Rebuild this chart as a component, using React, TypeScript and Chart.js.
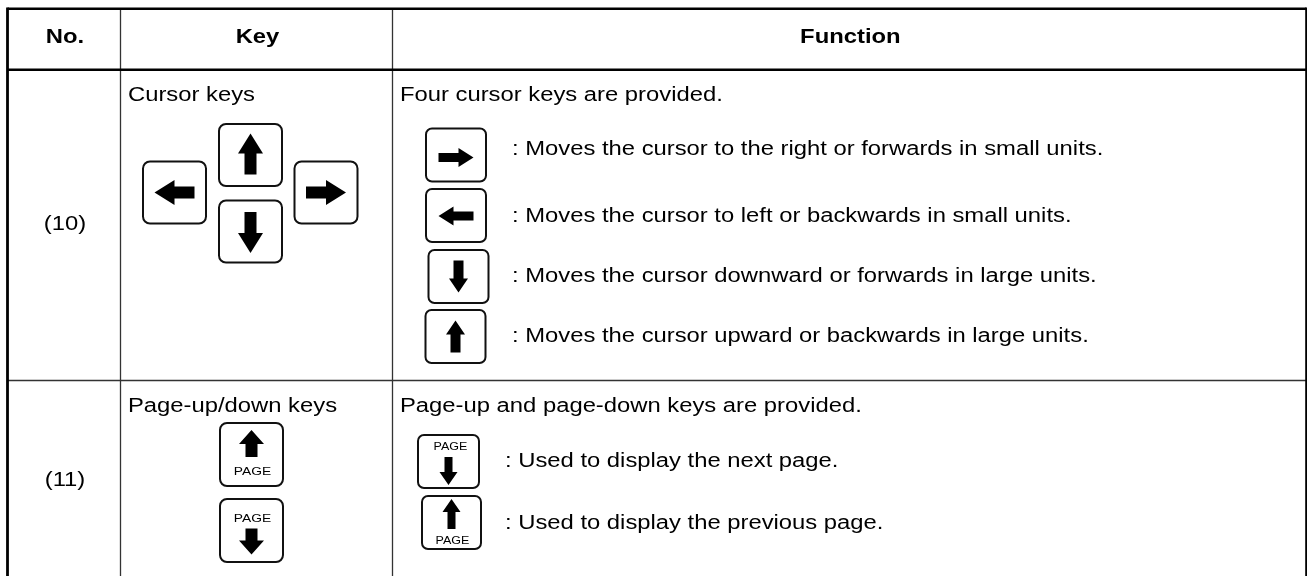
import React, { useEffect, useRef } from "react";
import { Chart, registerables } from "chart.js";

Chart.register(...registerables);

// ---------- content ----------
const headers = ["No.", "Key", "Function"];
const rowNumbers = ["(10)", "(11)"];
const keyLabels = ["Cursor keys", "Page-up/down keys"];
const functionIntros = [
  "Four cursor keys are provided.",
  "Page-up and page-down keys are provided.",
];
const cursorClusterKeys = ["up", "down", "left", "right"];
const cursorKeys = ["right", "left", "down", "up"];
const cursorDescriptions = [
  ": Moves the cursor to the right or forwards in small units.",
  ": Moves the cursor to left or backwards in small units.",
  ": Moves the cursor downward or forwards in large units.",
  ": Moves the cursor upward or backwards in large units.",
];
const pageKeyColumnKeys = ["up", "down"];
const pageKeys = ["down", "up"];
const pageDescriptions = [
  ": Used to display the next page.",
  ": Used to display the previous page.",
];
const pageLabel = "PAGE";

// ---------- layout (value space of the hidden linear scales) ----------
const W = 1307;
const H = 576;
const colEdges = [7.5, 120.5, 392.5, 1306.2];
const rowEdges = [8.7, 69.7, 380.5, 578];
const FONT = '"Liberation Sans", Arial, Helvetica, sans-serif';
const SX = 1.19;

const clusterPos: Record<string, [number, number]> = {
  up: [250.5, 155],
  down: [250.5, 231.5],
  left: [174.5, 192.5],
  right: [326, 192.5],
};
const fnBoxCenters: [number, number][] = [
  [456, 155],
  [456, 215.5],
  [458.5, 276.5],
  [455.5, 336.5],
];
const fnTextBaselines = [154.5, 222, 282, 342];
const pageKeyColCenters: [number, number][] = [
  [251.5, 454.5],
  [251.5, 530.5],
];
const pageFnCenters: [number, number][] = [
  [448.5, 461.5],
  [451.5, 522.5],
];
const pageTextBaselines = [467, 529];

const rot: Record<string, number> = { up: 0, right: Math.PI / 2, down: Math.PI, left: -Math.PI / 2 };

function drawArrow(
  ctx: CanvasRenderingContext2D,
  cx: number,
  cy: number,
  dir: string,
  len: number,
  headL: number,
  headW: number,
  shaftW: number
) {
  ctx.save();
  ctx.translate(cx, cy);
  ctx.rotate(rot[dir]);
  const t = -len / 2;
  const hb = t + headL;
  const b = len / 2;
  ctx.beginPath();
  ctx.moveTo(0, t);
  ctx.lineTo(headW / 2, hb);
  ctx.lineTo(shaftW / 2, hb);
  ctx.lineTo(shaftW / 2, b);
  ctx.lineTo(-shaftW / 2, b);
  ctx.lineTo(-shaftW / 2, hb);
  ctx.lineTo(-headW / 2, hb);
  ctx.closePath();
  ctx.fillStyle = "#000";
  ctx.fill();
  ctx.restore();
}

function roundBox(ctx: CanvasRenderingContext2D, cx: number, cy: number, w: number, h: number, r: number) {
  const x = cx - w / 2;
  const y = cy - h / 2;
  ctx.beginPath();
  ctx.moveTo(x + r, y);
  ctx.lineTo(x + w - r, y);
  ctx.arcTo(x + w, y, x + w, y + r, r);
  ctx.lineTo(x + w, y + h - r);
  ctx.arcTo(x + w, y + h, x + w - r, y + h, r);
  ctx.lineTo(x + r, y + h);
  ctx.arcTo(x, y + h, x, y + h - r, r);
  ctx.lineTo(x, y + r);
  ctx.arcTo(x, y, x + r, y, r);
  ctx.closePath();
  ctx.lineWidth = 2;
  ctx.strokeStyle = "#111";
  ctx.stroke();
}

function text(
  ctx: CanvasRenderingContext2D,
  s: string,
  x: number,
  y: number,
  size: number,
  align: CanvasTextAlign,
  bold = false,
  sx = SX
) {
  ctx.save();
  ctx.translate(x, y);
  ctx.scale(sx, 1);
  ctx.font = `${bold ? "bold " : ""}${size}px ${FONT}`;
  ctx.textAlign = align;
  ctx.textBaseline = "alphabetic";
  ctx.fillStyle = "#000";
  ctx.fillText(s, 0, 0);
  ctx.restore();
}

const tablePlugin = {
  id: "keyTable",
  beforeDraw(chart: any) {
    const ctx = chart.ctx as CanvasRenderingContext2D;
    ctx.save();
    ctx.fillStyle = "#fff";
    ctx.fillRect(0, 0, chart.width, chart.height);
    ctx.restore();
  },
  afterDraw(chart: any) {
    const ctx = chart.ctx as CanvasRenderingContext2D;
    const xs = chart.scales.x;
    const ys = chart.scales.y;
    const px = (v: number) => xs.getPixelForValue(v);
    const py = (v: number) => ys.getPixelForValue(v);
    ctx.save();

    // inner lines
    ctx.strokeStyle = "#333";
    ctx.lineWidth = 1.3;
    [colEdges[1], colEdges[2]].forEach((c) => {
      ctx.beginPath();
      ctx.moveTo(px(c), py(rowEdges[0]));
      ctx.lineTo(px(c), py(rowEdges[3]));
      ctx.stroke();
    });
    ctx.beginPath();
    ctx.moveTo(px(colEdges[0]), py(rowEdges[2]));
    ctx.lineTo(px(colEdges[3]), py(rowEdges[2]));
    ctx.stroke();

    // outer / header lines
    ctx.strokeStyle = "#000";
    ctx.lineWidth = 2.6;
    ctx.beginPath();
    ctx.moveTo(px(colEdges[0]), py(rowEdges[0]));
    ctx.lineTo(px(colEdges[3]), py(rowEdges[0]));
    ctx.moveTo(px(colEdges[0]), py(rowEdges[1]));
    ctx.lineTo(px(colEdges[3]), py(rowEdges[1]));
    ctx.stroke();
    ctx.lineWidth = 2.8;
    ctx.beginPath();
    ctx.moveTo(px(colEdges[0]), py(rowEdges[0] - 1.3));
    ctx.lineTo(px(colEdges[0]), py(rowEdges[3]));
    ctx.stroke();
    ctx.lineWidth = 2;
    ctx.beginPath();
    ctx.moveTo(px(colEdges[3]), py(rowEdges[0] - 1.3));
    ctx.lineTo(px(colEdges[3]), py(rowEdges[3]));
    ctx.stroke();

    // header
    headers.forEach((h, i) => {
      const cx = (colEdges[i] + colEdges[i + 1]) / 2;
      text(ctx, h, px(cx + 1), py(43), 20, "center", true);
    });

    // row numbers
    const noX = (colEdges[0] + colEdges[1]) / 2;
    text(ctx, rowNumbers[0], px(noX + 1), py(230), 20, "center");
    text(ctx, rowNumbers[1], px(noX + 1), py(486), 20, "center");

    // key labels + intros
    const rowTop = [rowEdges[1], rowEdges[2]];
    keyLabels.forEach((k, i) => {
      text(ctx, k, px(128), py(rowTop[i] + 31), 20, "left");
    });
    functionIntros.forEach((k, i) => {
      text(ctx, k, px(400), py(rowTop[i] + 31), 20, "left");
    });

    // cursor key cluster
    cursorClusterKeys.forEach((k) => {
      const [cx, cy] = clusterPos[k];
      roundBox(ctx, px(cx), py(cy), 63, 62, 7);
      const vert = k === "up" || k === "down";
      drawArrow(ctx, px(cx), py(cy + (k === "up" ? -1 : k === "down" ? 1 : 0)), k, vert ? 41 : 40, 20, 25, 12);
    });

    // function column cursor keys
    cursorKeys.forEach((k, i) => {
      const [cx, cy] = fnBoxCenters[i];
      roundBox(ctx, px(cx), py(cy), 60, 53, 6);
      const vert = k === "up" || k === "down";
      if (vert) drawArrow(ctx, px(cx), py(cy), k, 32, 14, 19, 10);
      else drawArrow(ctx, px(cx), py(cy + (k === "right" ? 2.5 : 0.5)), k, 35, 15, 19, 9);
      text(ctx, cursorDescriptions[i], px(512), py(fnTextBaselines[i]), 20, "left");
    });

    // page keys in Key column
    pageKeyColumnKeys.forEach((k, i) => {
      const [cx, cy] = pageKeyColCenters[i];
      roundBox(ctx, px(cx), py(cy), 63, 63, 7);
      if (k === "up") {
        drawArrow(ctx, px(cx), py(cy - 11), "up", 27, 14, 25, 12);
        text(ctx, pageLabel, px(cx + 1), py(cy + 20), 11.5, "center", false, 1.2);
      } else {
        text(ctx, pageLabel, px(cx + 1), py(cy - 9), 11.5, "center", false, 1.2);
        drawArrow(ctx, px(cx), py(cy + 11), "down", 26, 14, 25, 12);
      }
    });

    // page keys in Function column
    pageKeys.forEach((k, i) => {
      const [cx, cy] = pageFnCenters[i];
      roundBox(ctx, px(cx), py(cy), i === 0 ? 61 : 59, 53, 6);
      if (k === "down") {
        text(ctx, pageLabel, px(cx + 2), py(cy - 11.5), 10, "center", false, 1.25);
        drawArrow(ctx, px(cx), py(cy + 9.5), "down", 28, 13, 18, 8);
      } else {
        drawArrow(ctx, px(cx), py(cy - 8.5), "up", 30, 13, 18, 8);
        text(ctx, pageLabel, px(cx + 1), py(cy + 21.5), 10, "center", false, 1.25);
      }
      text(ctx, pageDescriptions[i], px(505), py(pageTextBaselines[i]), 20, "left");
    });

    ctx.restore();
  },
};

export default function App() {
  const ref = useRef<HTMLCanvasElement | null>(null);
  useEffect(() => {
    if (!ref.current) return;
    document.body.style.margin = "0";
    document.body.style.overflow = "hidden";
    const chart = new Chart(ref.current, {
      type: "scatter",
      data: { datasets: [] },
      options: {
        animation: false,
        responsive: false,
        maintainAspectRatio: false,
        devicePixelRatio: 1,
        events: [],
        layout: { padding: 0 },
        plugins: { legend: { display: false }, tooltip: { enabled: false } },
        scales: {
          x: { type: "linear", min: 0, max: W, display: false },
          y: { type: "linear", min: 0, max: H, reverse: true, display: false },
        },
      },
      plugins: [tablePlugin],
    } as any);
    return () => chart.destroy();
  }, []);
  return (
    <div style={{ position: "absolute", left: 0, top: 0, width: W, height: H, background: "#fff" }}>
      <canvas ref={ref} width={W} height={H} style={{ display: "block" }} />
    </div>
  );
}
